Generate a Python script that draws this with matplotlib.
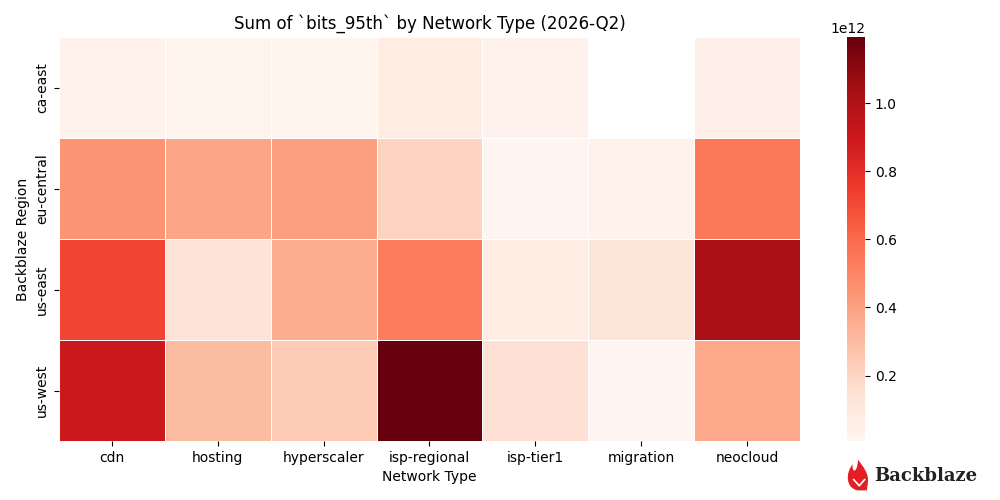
import numpy as np
import pandas as pd
import matplotlib
matplotlib.use("Agg")
import matplotlib.pyplot as plt
import seaborn as sns
from matplotlib.patches import PathPatch
from matplotlib.path import Path

regions = ["ca-east", "eu-central", "us-east", "us-west"]
network_types = ["cdn", "hosting", "hyperscaler", "isp-regional", "isp-tier1", "migration", "neocloud"]

# sum of bits_95th, in units of 1e12 (NaN = no data)
ca_east = [0.030, 0.022, 0.025, 0.075, 0.028, np.nan, 0.040]
eu_central = [0.450, 0.380, 0.410, 0.210, 0.015, 0.035, 0.550]
us_east = [0.720, 0.130, 0.360, 0.530, 0.075, 0.120, 1.020]
us_west = [0.900, 0.300, 0.240, 1.194, 0.150, 0.008, 0.370]

values = pd.DataFrame([ca_east, eu_central, us_east, us_west],
                      index=regions, columns=network_types) * 1e12

fig = plt.figure(figsize=(10, 5), dpi=100)
ax = fig.add_axes([0.059, 0.118, 0.741, 0.808])
cax = fig.add_axes([0.847, 0.118, 0.018, 0.808])

sns.heatmap(values, cmap="Reds", linewidths=0.5, linecolor="white",
            ax=ax, cbar_ax=cax)
cax.tick_params(labelsize=10)

ax.set_title("Sum of `bits_95th` by Network Type (2026-Q2)", fontsize=12)
ax.set_xlabel("Network Type")
ax.set_ylabel("Backblaze Region")
ax.tick_params(axis="x", rotation=0)
ax.tick_params(axis="y", rotation=90)
for lbl in ax.get_yticklabels():
    lbl.set_va("center")

# Backblaze logo: flame mark + wordmark
flame = Path(
    [(0.0, 0.0), (-0.55, 0.05), (-0.6, 0.55), (-0.25, 0.85),
     (-0.3, 0.6), (-0.05, 0.5), (0.0, 1.0),
     (0.25, 0.75), (0.5, 0.55), (0.45, 0.25),
     (0.4, 0.0), (0.0, 0.0)],
    [Path.MOVETO, Path.CURVE4, Path.CURVE4, Path.CURVE4,
     Path.CURVE4, Path.CURVE4, Path.CURVE4,
     Path.CURVE4, Path.CURVE4, Path.CURVE4,
     Path.LINETO, Path.CLOSEPOLY])
logo_ax = fig.add_axes([0.845, 0.018, 0.024, 0.064])
logo_ax.add_patch(PathPatch(flame, facecolor="#e21e26", edgecolor="none"))
logo_ax.plot([-0.2, 0.05, 0.3], [0.35, 0.15, 0.35], color="white", lw=1.2)
logo_ax.set_xlim(-0.6, 0.5)
logo_ax.set_ylim(-0.02, 1.02)
logo_ax.axis("off")
fig.text(0.874, 0.048, "Backblaze", fontsize=13, fontweight="bold",
         family="DejaVu Serif", color="#222222", va="center")

fig.savefig("out.png", dpi=100)
